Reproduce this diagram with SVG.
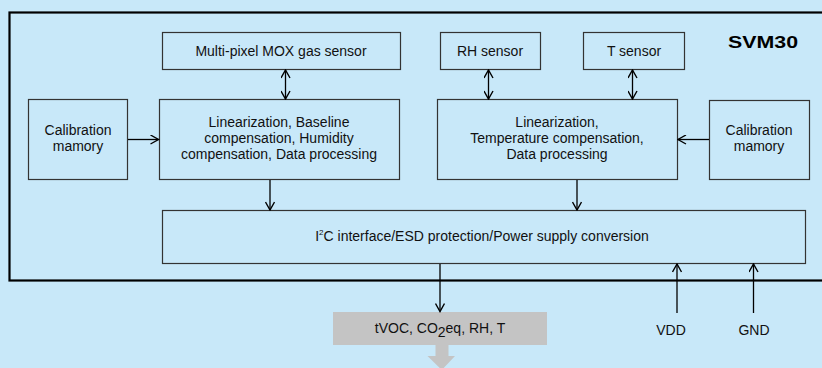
<svg xmlns="http://www.w3.org/2000/svg" width="822" height="368" viewBox="0 0 822 368">
<defs>
<marker id="ah" viewBox="0 0 10 10" refX="9" refY="5" markerWidth="10" markerHeight="10" markerUnits="userSpaceOnUse" orient="auto-start-reverse">
<path d="M1,0.5 L9,5 L1,9.5" fill="none" stroke="#000" stroke-width="1.4"/>
</marker>
</defs>
<style>
.bx{fill:#C8E8F9;stroke:#333;stroke-width:1.2}
.t{font-family:"Liberation Sans",Arial,sans-serif;font-size:14px;fill:#111;text-anchor:middle}
.c{fill:none;stroke:#000;stroke-width:1.3}
</style>
<rect x="0" y="0" width="822" height="368" fill="#C8E8F9"/>
<g id="frame">
<rect x="9.5" y="12.5" width="830" height="268" fill="none" stroke="#000" stroke-width="2.2"/>
<text x="763" y="48" font-family="Liberation Sans,Arial,sans-serif" font-weight="bold" font-size="17" fill="#000" text-anchor="middle" textLength="70" lengthAdjust="spacingAndGlyphs">SVM30</text>
</g>
<g id="mox"><rect class="bx" x="162.5" y="32.5" width="238" height="37"/><text class="t" x="281" y="56">Multi-pixel MOX gas sensor</text></g>
<g id="rh"><rect class="bx" x="440.5" y="32.5" width="100" height="37"/><text class="t" x="490" y="56">RH sensor</text></g>
<g id="ts"><rect class="bx" x="583.5" y="32.5" width="101" height="37"/><text class="t" x="634" y="56">T sensor</text></g>
<g id="cal1"><rect class="bx" x="28.5" y="99.5" width="99" height="80"/><text class="t" x="78" y="135">Calibration</text><text class="t" x="78" y="151">mamory</text></g>
<g id="proc1"><rect class="bx" x="159.5" y="99.5" width="240" height="80"/><text class="t" x="279" y="127">Linearization, Baseline</text><text class="t" x="279" y="143">compensation, Humidity</text><text class="t" x="279" y="159">compensation, Data processing</text></g>
<g id="proc2"><rect class="bx" x="437.5" y="99.5" width="240" height="80"/><text class="t" x="557" y="127">Linearization,</text><text class="t" x="557" y="143">Temperature compensation,</text><text class="t" x="557" y="159">Data processing</text></g>
<g id="cal2"><rect class="bx" x="709.5" y="100.5" width="100" height="79"/><text class="t" x="759" y="135">Calibration</text><text class="t" x="759" y="151">mamory</text></g>
<g id="i2c"><rect class="bx" x="162.5" y="210.5" width="643" height="53"/><text class="t" x="482" y="241">I<tspan font-size="8" dy="-6">2</tspan><tspan dy="6">C interface/ESD protection/Power supply conversion</tspan></text></g>
<g id="out">
<rect x="333" y="312" width="214" height="33" fill="#C4C4C4"/>
<text class="t" x="440" y="333">tVOC, CO<tspan font-size="14" dy="4">2</tspan><tspan dy="-4">eq, RH, T</tspan></text>
<path d="M435.5,345 H448.5 V356 H455 L441.8,370 L427.5,356 H435.5 Z" fill="#C4C4C4"/>
</g>
<g id="vdd"><text class="t" x="671" y="335">VDD</text></g>
<g id="gnd"><text class="t" x="754" y="335">GND</text></g>
<g id="connectors">
<line class="c" x1="285.5" y1="70" x2="285.5" y2="99" marker-start="url(#ah)" marker-end="url(#ah)"/>
<line class="c" x1="488.5" y1="70" x2="488.5" y2="99" marker-start="url(#ah)" marker-end="url(#ah)"/>
<line class="c" x1="632.5" y1="70" x2="632.5" y2="99" marker-start="url(#ah)" marker-end="url(#ah)"/>
<line class="c" x1="128" y1="139.5" x2="158.5" y2="139.5" marker-end="url(#ah)"/>
<line class="c" x1="709" y1="139.5" x2="678" y2="139.5" marker-end="url(#ah)"/>
<line class="c" x1="270" y1="180" x2="270" y2="210" marker-end="url(#ah)"/>
<line class="c" x1="577" y1="180" x2="577" y2="210" marker-end="url(#ah)"/>
<line class="c" x1="440" y1="264" x2="440" y2="311.5" marker-end="url(#ah)"/>
<line class="c" x1="677" y1="313" x2="677" y2="264" marker-end="url(#ah)"/>
<line class="c" x1="753.5" y1="313" x2="753.5" y2="264" marker-end="url(#ah)"/>
</g>
</svg>
